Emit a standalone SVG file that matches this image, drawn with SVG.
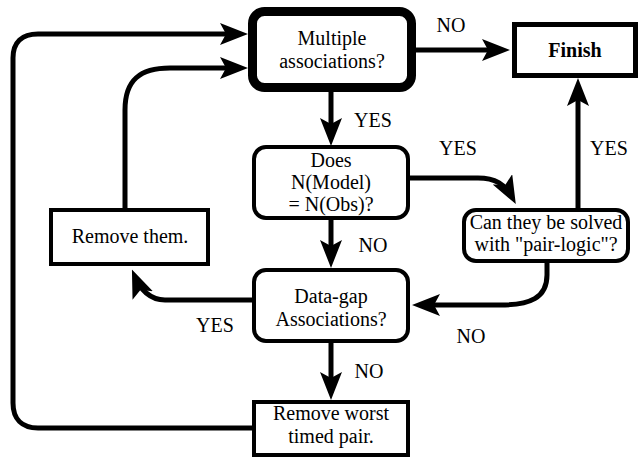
<svg xmlns="http://www.w3.org/2000/svg" width="639" height="459" viewBox="0 0 639 459">
<defs>
<marker id="ah" markerUnits="userSpaceOnUse" markerWidth="28" markerHeight="22" viewBox="0 0 28 22" refX="20" refY="11" orient="auto">
<path d="M0,0 L28,11 L0,22 L6,11 Z" fill="#000"/>
</marker>
</defs>
<style>
text{fill:#000;text-anchor:middle;font-size:20px;font-family:"Liberation Serif","Times New Roman",serif}
.box{fill:#fff;stroke:#000;stroke-width:4}
.c{fill:none;stroke:#000;stroke-width:5;marker-end:url(#ah)}
.b{font-weight:bold}
</style>
<g id="connectors">
<path class="c" d="M416,50 H502"/>
<path class="c" d="M331,92 V138"/>
<path class="c" d="M410,178 H478 C495,178 505,184 512,197"/>
<path class="c" d="M578,208 V86"/>
<path class="c" d="M331,220 V260"/>
<path class="c" d="M547,263 V275 C547,298 530,305 500,305 H420"/>
<path class="c" d="M252,300 H165 C150,300 140,289 135,277"/>
<path class="c" d="M331,343 V392"/>
<path class="c" d="M125,208 V110 C125,80 140,68 170,68 H240"/>
<path class="c" d="M252,428 H38 C22,428 13,419 13,403 V58 C13,42 22,34 38,34 H240"/>
</g>
<g id="multiple">
<rect x="252.5" y="11.5" width="159" height="76" rx="12" fill="#fff" stroke="#000" stroke-width="9"/>
<text x="332" y="45">Multiple</text>
<text x="332" y="68">associations?</text>
</g>
<g id="finish">
<rect class="box" x="514.5" y="24.5" width="121" height="51" style="stroke-width:5"/>
<text class="b" x="575" y="57">Finish</text>
</g>
<g id="does">
<rect class="box" x="254" y="147" width="154" height="71" rx="12"/>
<text x="331" y="167">Does</text>
<text x="331" y="189">N(Model)</text>
<text x="331" y="211">= N(Obs)?</text>
</g>
<g id="solve">
<rect class="box" x="464" y="210" width="164" height="51" rx="12"/>
<text x="546" y="229">Can they be solved</text>
<text x="546" y="251">with "pair-logic"?</text>
</g>
<g id="removethem">
<rect class="box" x="51" y="210" width="157" height="54"/>
<text x="130" y="243">Remove them.</text>
</g>
<g id="datagap">
<rect class="box" x="254" y="270" width="154" height="71" rx="12"/>
<text x="331" y="303">Data-gap</text>
<text x="331" y="326">Associations?</text>
</g>
<g id="removeworst">
<rect class="box" x="254" y="402" width="154" height="53"/>
<text x="331" y="420">Remove worst</text>
<text x="331" y="443">timed pair.</text>
</g>
<g id="labels">
<text x="451" y="32">NO</text>
<text x="373" y="127">YES</text>
<text x="458" y="155">YES</text>
<text x="609" y="155">YES</text>
<text x="373" y="252">NO</text>
<text x="471" y="343">NO</text>
<text x="369" y="378">NO</text>
<text x="215" y="332">YES</text>
</g>
</svg>
